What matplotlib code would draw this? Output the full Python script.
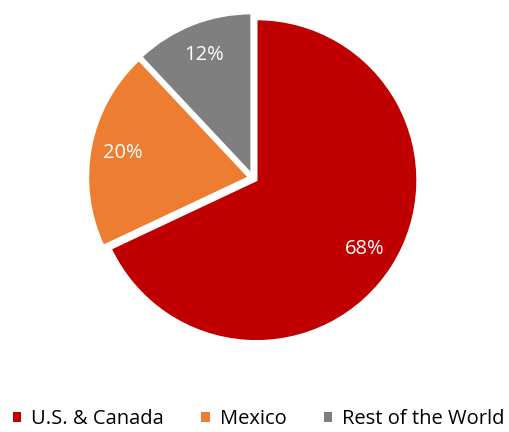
import matplotlib.pyplot as plt
from matplotlib.patches import Patch

plt.rcParams["font.family"] = ["Open Sans", "DejaVu Sans"]

# Data
regions = ["U.S. & Canada", "Mexico", "Rest of the World"]
shares = [68, 20, 12]
colors = ["#C00000", "#ED7D31", "#7F7F7F"]

W, H, DPI = 509, 432, 100
fig = plt.figure(figsize=(W / DPI, H / DPI), dpi=DPI)

# pie geometry in pixels
cx, cy, r_px, half = 253, 178, 161, 175
ax = fig.add_axes([(cx - half) / W, (H - cy - half) / H, 2 * half / W, 2 * half / H])
lim = half / r_px

wedges, texts, autotexts = ax.pie(
    shares, colors=colors, startangle=90, counterclock=False,
    explode=[0.025] * len(shares), radius=1,
    autopct="%d%%", pctdistance=0.8,
    wedgeprops=dict(edgecolor="white", linewidth=1.6),
    textprops=dict(color="white", fontsize=14.5),
)
ax.set_xlim(-lim, lim)
ax.set_ylim(-lim, lim)
ax.set_aspect("equal")
ax.axis("off")

handles = [Patch(facecolor=c, edgecolor="none") for c in colors]
fig.legend(handles, regions, loc="center", bbox_to_anchor=(0.508, (H - 419) / H),
           ncol=3, frameon=False, fontsize=14.5, handlelength=0.42, handleheight=0.42,
           handletextpad=0.5, columnspacing=1.85, borderaxespad=0)

fig.savefig("out.png", dpi=DPI)
